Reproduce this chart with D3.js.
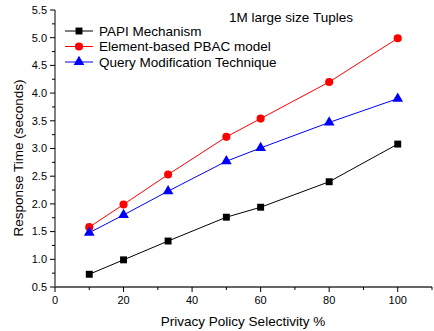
<!DOCTYPE html>
<html>
<head>
<meta charset="utf-8">
<script src="https://cdn.jsdelivr.net/npm/d3@7"></script>
<style>
  body { margin: 0; background: #fff; }
  text { font-family: "Liberation Sans", Arial, sans-serif; }
</style>
</head>
<body>
<div id="chart"></div>
<script>
// Response time vs selectivity, 1M large size tuples
const selectivity = [10, 20, 33, 50, 60, 80, 100];
const papi = [0.73, 0.99, 1.33, 1.76, 1.94, 2.40, 3.08];
const pbac = [1.58, 1.99, 2.53, 3.21, 3.54, 4.20, 4.99];
const queryMod = [1.48, 1.80, 2.23, 2.77, 3.01, 3.47, 3.90];
const seriesNames = ['PAPI Mechanism', 'Element-based PBAC model', 'Query Modification Technique'];
const xTicks = [0, 20, 40, 60, 80, 100];
const yTicks = [0.5, 1.0, 1.5, 2.0, 2.5, 3.0, 3.5, 4.0, 4.5, 5.0, 5.5];

const width = 434, height = 331;
const svg = d3.select('#chart').append('svg')
  .attr('width', width)
  .attr('height', height);

const x = d3.scaleLinear().domain([0, 110]).range([55, 432]);
const y = d3.scaleLinear().domain([0.5, 5.5]).range([287, 10]);

// y axis
const yAxis = svg.append('g').attr('transform', `translate(${x(0)},0)`);
yAxis.append('line')
  .attr('y1', y(0.5)).attr('y2', y(5.5))
  .attr('stroke', '#000').attr('stroke-width', 1);
yAxis.selectAll('.ymaj').data(yTicks).enter().append('line')
  .attr('x1', -5).attr('x2', 0)
  .attr('y1', d => y(d)).attr('y2', d => y(d))
  .attr('stroke', '#000');
yAxis.selectAll('.ymin').data(yTicks.slice(0, -1).map(d => d + 0.25)).enter().append('line')
  .attr('x1', -3).attr('x2', 0)
  .attr('y1', d => y(d)).attr('y2', d => y(d))
  .attr('stroke', '#000');
yAxis.selectAll('.ylab').data(yTicks).enter().append('text')
  .attr('x', -8).attr('y', d => y(d)).attr('dy', '0.35em')
  .attr('text-anchor', 'end')
  .style('font-size', '11px')
  .text(d => d.toFixed(1));

// x axis
const xAxis = svg.append('g').attr('transform', `translate(0,${y(0.5)})`);
xAxis.append('line')
  .attr('x1', x(0)).attr('x2', x(110))
  .attr('stroke', '#666').attr('stroke-width', 2);
xAxis.selectAll('.xmaj').data(xTicks).enter().append('line')
  .attr('x1', d => x(d)).attr('x2', d => x(d))
  .attr('y1', 0).attr('y2', 5)
  .attr('stroke', '#000');
xAxis.selectAll('.xmin').data(xTicks.map(d => d + 10)).enter().append('line')
  .attr('x1', d => x(d)).attr('x2', d => x(d))
  .attr('y1', 0).attr('y2', 3)
  .attr('stroke', '#000');
xAxis.selectAll('.xlab').data(xTicks).enter().append('text')
  .attr('x', d => x(d)).attr('y', 17)
  .attr('text-anchor', 'middle')
  .style('font-size', '11px')
  .text(d => d);

// axis titles
svg.append('text')
  .attr('x', 243).attr('y', 326)
  .attr('text-anchor', 'middle')
  .style('font-size', '13.5px')
  .text('Privacy Policy Selectivity %');
svg.append('text')
  .attr('transform', `translate(23,158) rotate(-90)`)
  .attr('text-anchor', 'middle')
  .style('font-size', '13.5px')
  .text('Response Time  (seconds)');

svg.append('text')
  .attr('x', 291).attr('y', 22)
  .attr('text-anchor', 'middle')
  .style('font-size', '13.5px')
  .text('1M large size Tuples');

const series = [
  { name: seriesNames[0], values: papi, color: '#000', symbol: d3.symbolSquare, size: 48 },
  { name: seriesNames[1], values: pbac, color: '#ff0000', symbol: d3.symbolCircle, size: 52 },
  { name: seriesNames[2], values: queryMod, color: '#0000ff', symbol: d3.symbolTriangle, size: 50 }
];

const line = d3.line()
  .x((d, i) => x(selectivity[i]))
  .y(d => y(d));

series.forEach(s => {
  svg.append('path')
    .attr('d', line(s.values))
    .attr('fill', 'none')
    .attr('stroke', s.color)
    .attr('stroke-width', 1);
  svg.selectAll(null).data(s.values).enter().append('path')
    .attr('d', d3.symbol().type(s.symbol).size(s.size))
    .attr('transform', (d, i) => `translate(${x(selectivity[i])},${y(d)})`)
    .attr('fill', s.color);
});

// legend
const legend = svg.append('g');
series.forEach((s, i) => {
  const ly = 31 + i * 15.5;
  legend.append('line')
    .attr('x1', 65).attr('x2', 93)
    .attr('y1', ly).attr('y2', ly)
    .attr('stroke', s.color);
  legend.append('path')
    .attr('d', d3.symbol().type(s.symbol).size(s.size))
    .attr('transform', `translate(79,${ly})`)
    .attr('fill', s.color);
  legend.append('text')
    .attr('x', 99).attr('y', ly).attr('dy', '0.35em')
    .style('font-size', '13.5px')
    .text(s.name);
});
</script>
</body>
</html>
